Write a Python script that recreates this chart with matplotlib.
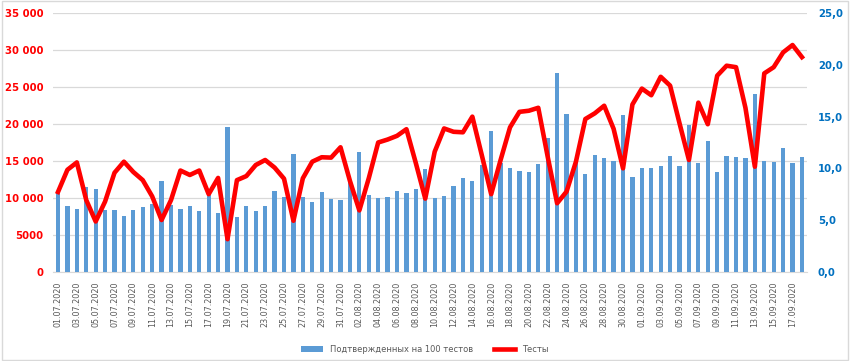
import pandas as pd
import matplotlib
matplotlib.use("Agg")
import matplotlib.pyplot as plt
from matplotlib.patches import Rectangle
from matplotlib.ticker import FuncFormatter

# daily dates 01.07.2020 - 18.09.2020
dates = pd.date_range("2020-07-01", "2020-09-18", freq="D")
date_labels = [d.strftime("%d.%m.%Y") for d in dates]

# confirmed per 100 tests (right axis)
positive_rate = [7.74, 6.35, 6.09, 8.22, 8.0, 5.97, 5.97, 5.39, 5.97, 6.29,
                 6.55, 8.77, 6.45, 6.03, 6.38, 5.84, 7.42, 5.71, 14.0, 5.32,
                 6.35, 5.87, 6.35, 7.8, 7.25, 11.38, 7.22, 6.79, 7.7, 7.03,
                 6.91, 8.8, 11.56, 7.42, 7.16, 7.25, 7.83, 7.64, 7.97, 9.93,
                 7.1, 7.32, 8.32, 9.11, 8.76, 10.32, 13.64, 10.5, 10.0, 9.77,
                 9.61, 10.42, 12.96, 19.19, 15.22, 10.48, 9.45, 11.29, 11.0, 10.72,
                 15.13, 9.16, 10.0, 10.06, 10.25, 11.19, 10.25, 14.22, 10.48, 12.64,
                 9.64, 11.19, 11.12, 11.03, 17.16, 10.74, 10.58, 11.99, 10.48, 11.06]

# number of tests (left axis)
tests = [10800, 13800, 14800, 9700, 6800, 9500, 13400, 14900, 13500, 12400,
         10200, 7000, 9700, 13700, 13100, 13700, 10500, 12700, 4400, 12400,
         12950, 14450, 15130, 14100, 12600, 6900, 12650, 14900, 15500, 15450,
         16850, 12300, 8300, 12650, 17500, 17900, 18400, 19300, 14700, 9900,
         16250, 19400, 18950, 18880, 21000, 15800, 10500, 15130, 19550, 21650,
         21800, 22200, 15580, 9270, 10840, 14900, 20680, 21450, 22480, 19350,
         14000, 22650, 24800, 23900, 26400, 25200, 20100, 15130, 22900, 19970,
         26550, 27900, 27700, 22200, 14220, 26860, 27700, 29700, 30700, 29060]

bar_label = "Подтвержденных на 100 тестов"
line_label = "Тесты"

x = list(range(len(dates)))

fig = plt.figure(figsize=(8.5, 3.61), dpi=100)
ax = fig.add_axes([0.0627, 0.2474, 0.949 - 0.0627, 0.9632 - 0.2474])
ax_bar = ax.twinx()
ax_line = ax.twinx()

# left axis: grid + tick labels
ax.set_xlim(-0.5, len(x) - 0.5)
ax.set_ylim(0, 35000)
ax.set_yticks(range(0, 35001, 5000))
ax.yaxis.set_major_formatter(FuncFormatter(
    lambda v, p: f"{int(v):,}".replace(",", " ") if v >= 10000 else f"{int(v)}"))
ax.grid(axis="y", color="#D9D9D9", linewidth=0.9)
ax.tick_params(axis="y", length=0, labelsize=7.3, labelcolor="#FF0000", pad=7)
for lab in ax.get_yticklabels():
    lab.set_fontweight("bold")
ax.set_xticks(x[::2])
ax.set_xticklabels(date_labels[::2], rotation=90, fontsize=5.8, color="#595959")
ax.tick_params(axis="x", length=0, pad=7)
for s in ["top", "left", "right"]:
    ax.spines[s].set_visible(False)
ax.spines["bottom"].set_color("#D9D9D9")

# bars on the right axis
bars = ax_bar.bar(x, positive_rate, width=0.45, color="#5B9BD5", label=bar_label)
ax_bar.set_ylim(0, 25)
ax_bar.set_yticks(range(0, 26, 5))
ax_bar.yaxis.set_major_formatter(FuncFormatter(lambda v, p: f"{v:.1f}".replace(".", ",")))
ax_bar.tick_params(axis="y", length=0, labelsize=7.3, labelcolor="#0070C0", pad=8)
for lab in ax_bar.get_yticklabels():
    lab.set_fontweight("bold")
for s in ax_bar.spines.values():
    s.set_visible(False)

# line on top
line, = ax_line.plot(x, tests, color="#FF0000", linewidth=3.3, label=line_label)
ax_line.set_ylim(0, 35000)
ax_line.set_yticks([])
for s in ax_line.spines.values():
    s.set_visible(False)

fig.legend(handles=[bars, line], labels=[bar_label, line_label], loc="lower center",
           ncol=2, frameon=False, fontsize=6, labelcolor="#595959",
           bbox_to_anchor=(0.5, 0.0), handlelength=2.6, columnspacing=2.5)

fig.patches.append(Rectangle((0.002, 0.004), 0.996, 0.992, transform=fig.transFigure,
                             fill=False, edgecolor="#D9D9D9", linewidth=1))

fig.savefig("out.png", dpi=100)
